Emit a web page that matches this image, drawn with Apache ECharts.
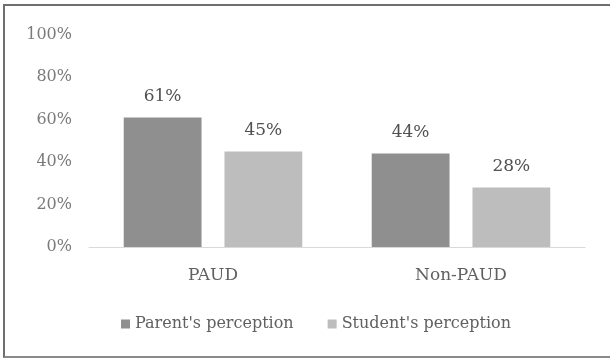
<!DOCTYPE html>
<html>
<head>
<meta charset="utf-8">
<script src="https://cdn.jsdelivr.net/npm/echarts@6/dist/echarts.min.js"></script>
<style>
  html, body { margin: 0; padding: 0; background: #fff; }
  #frame {
    position: absolute; left: 3px; top: 4px; width: 607px; height: 350px;
    border-top: 2px solid #6e6e6e; border-left: 2px solid #6e6e6e; border-bottom: 2px solid #8a8a8a;
  }
  #chart { position: absolute; left: 0; top: 0; width: 610px; height: 358px; }
</style>
</head>
<body>
<div id="frame"></div>
<div id="chart"></div>
<script>
const categories = ['PAUD', 'Non-PAUD'];
const parentValues = [61, 44];
const studentValues = [45, 28];
const tickLabels = ['0%', '20%', '40%', '60%', '80%', '100%'];

const serif = '"DejaVu Serif", "Liberation Serif", serif';
const chart = echarts.init(document.getElementById('chart'));

const labelStyle = {
  show: true,
  position: 'top',
  distance: 12,
  formatter: p => p.value + '%',
  fontFamily: serif,
  fontSize: 17,
  color: '#505050'
};

chart.setOption({
  animation: false,
  grid: { left: 89, right: 25, top: 34.5, bottom: 111 },
  legend: {
    top: 311,
    left: 116,
    itemWidth: 9,
    itemHeight: 9,
    itemGap: 34,
    icon: 'rect',
    textStyle: { fontFamily: serif, fontSize: 16, color: '#606060' },
    data: ["Parent's perception", "Student's perception"]
  },
  xAxis: {
    type: 'category',
    data: categories,
    axisLine: { lineStyle: { color: '#d9d9d9', width: 1 } },
    axisTick: { show: false },
    axisLabel: { fontFamily: serif, fontSize: 17, color: '#606060', margin: 20 }
  },
  yAxis: {
    type: 'value',
    min: 0,
    max: 100,
    interval: 20,
    splitLine: { show: false },
    axisLine: { show: false },
    axisTick: { show: false },
    axisLabel: {
      fontFamily: serif, fontSize: 16, color: '#7a7a7a', margin: 17,
      formatter: v => tickLabels[v / 20]
    }
  },
  series: [
    {
      name: "Parent's perception",
      type: 'bar',
      data: parentValues,
      barGap: '29.5%',
      barCategoryGap: '28%',
      itemStyle: { color: '#8f8f8f' },
      label: labelStyle
    },
    {
      name: "Student's perception",
      type: 'bar',
      data: studentValues,
      itemStyle: { color: '#bdbdbd' },
      label: labelStyle
    }
  ]
});
</script>
</body>
</html>
